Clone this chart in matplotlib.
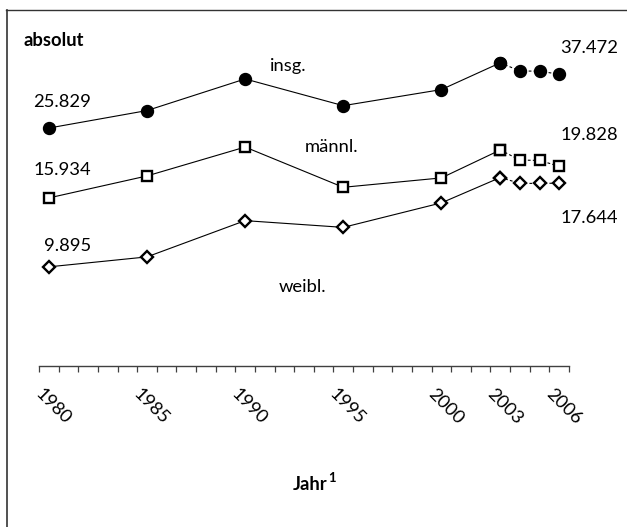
import matplotlib
matplotlib.use("Agg")
import matplotlib.pyplot as plt
import matplotlib.transforms as mtransforms
from matplotlib.lines import Line2D

# ---- data ----
years = [1980, 1985, 1990, 1995, 2000, 2003, 2004, 2005, 2006]
insg = [25.829, 29.15, 36.27, 30.15, 33.70, 40.55, 38.32, 38.27, 37.472]
maennl = [15.934, 18.55, 22.65, 17.15, 18.30, 22.20, 20.70, 20.65, 19.828]
weibl = [9.895, 10.60, 13.62, 13.00, 15.40, 18.35, 17.62, 17.62, 17.644]
label_years = [1980, 1985, 1990, 1995, 2000, 2003, 2006]
series_names = ["insg.", "männl.", "weibl."]
start_labels = ["25.829", "15.934", "9.895"]
end_labels = ["37.472", "19.828", "17.644"]

W, H = 627, 527
plt.rcParams['font.family'] = ['Lato', 'DejaVu Sans']
FS = 13.2

fig = plt.figure(figsize=(W / 100, H / 100), dpi=100)


def fx(x):
    return x / W


def fy(y):
    return 1 - y / H


ax_left, ax_right, ax_top, ax_bot = 39, 569, 32.5, 365.6
ax = fig.add_axes([fx(ax_left), fy(ax_bot), (ax_right - ax_left) / W, (ax_bot - ax_top) / H])
ax.set_yscale('log')
ax.set_ylim(5, 50)
ax.set_xlim(years[0] - 0.5, years[-1] + 0.5)

split = years.index(2003)
styles = [
    dict(marker='o', ms=8.6, mfc='black', mec='black', mew=1),
    dict(marker='s', ms=7, mfc='white', mec='black', mew=1.7),
    dict(marker='D', ms=6, mfc='white', mec='black', mew=1.7),
]
for vals, st in zip([insg, maennl, weibl], styles):
    ax.plot(years[:split + 1], vals[:split + 1], color='black', lw=0.8, zorder=2, **st)
    ax.plot(years[split:], vals[split:], color='black', lw=0.8, ls=(0, (2.5, 2)), zorder=2, **st)

for s in ['left', 'right', 'top']:
    ax.spines[s].set_visible(False)
ax.spines['bottom'].set_color('#404040')
ax.spines['bottom'].set_linewidth(1.0)
ax.yaxis.set_visible(False)
ax.set_xticks([y - 0.5 for y in range(years[0], years[-1] + 2)])
ax.set_xticklabels([])
ax.tick_params(axis='x', direction='out', length=4.5, width=0.9, color='#404040')
ax.minorticks_off()
ax.patch.set_alpha(0)

# rotated year labels
trans = mtransforms.blended_transform_factory(ax.transData, ax.transAxes)
ylab = -(390 - ax_bot) / (ax_bot - ax_top)
for yr in label_years:
    ax.text(yr - 0.5, ylab, str(yr), transform=trans, rotation=-45,
            rotation_mode='anchor', ha='left', va='center_baseline', fontsize=FS, color='black')

# texts
fig.text(fx(23), fy(46), "absolut", fontsize=FS, fontweight='bold', ha='left', va='baseline')
fig.text(fx(270), fy(71), series_names[0], fontsize=FS, ha='left', va='baseline')
fig.text(fx(305), fy(152), series_names[1], fontsize=FS, ha='left', va='baseline')
fig.text(fx(279), fy(292), series_names[2], fontsize=FS, ha='left', va='baseline')
for lab, yb in zip(start_labels, [107, 175, 251]):
    fig.text(fx(91), fy(yb), lab, fontsize=FS, ha='right', va='baseline')
for lab, yb in zip(end_labels, [53, 140, 223]):
    fig.text(fx(618), fy(yb), lab, fontsize=FS, ha='right', va='baseline')

jt = fig.text(fx(293), fy(490), "Jahr", fontsize=FS, fontweight='bold', ha='left', va='baseline')
fig.canvas.draw()
bb = jt.get_window_extent()
fig.text((bb.x1 + 1) / W, fy(482), "1", fontsize=9.5, fontweight='bold', ha='left', va='baseline')

# outer frame (left and top edges visible)
fig.add_artist(Line2D([fx(6.5), fx(6.5)], [fy(10), 0], transform=fig.transFigure,
                      color='#333333', lw=1.2))
fig.add_artist(Line2D([fx(6), 1], [fy(10), fy(10)], transform=fig.transFigure,
                      color='#333333', lw=1.0))

fig.savefig("out.png", dpi=100)
